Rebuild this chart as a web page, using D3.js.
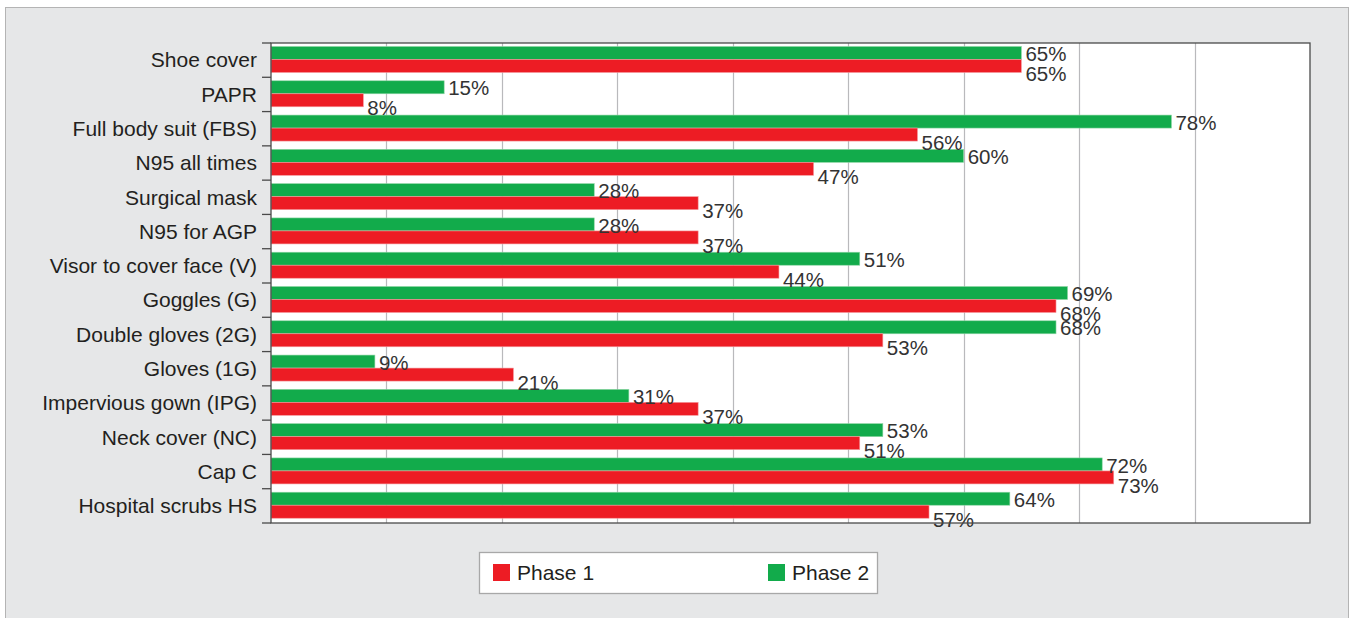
<!DOCTYPE html>
<html>
<head>
<meta charset="utf-8">
<script src="https://cdn.jsdelivr.net/npm/d3@7"></script>
<style>
  body { margin: 0; background: #fff; }
  text { font-family: "Liberation Sans", Arial, sans-serif; }
</style>
</head>
<body>
<svg id="chart" width="1351" height="618"></svg>
<script>
const categories = ["Shoe cover", "PAPR", "Full body suit (FBS)", "N95 all times", "Surgical mask",
    "N95 for AGP", "Visor to cover face (V)", "Goggles (G)", "Double gloves (2G)", "Gloves (1G)",
    "Impervious gown (IPG)", "Neck cover (NC)", "Cap C", "Hospital scrubs HS"];
const phase1 = [65, 8, 56, 47, 37, 37, 44, 68, 53, 21, 37, 51, 73, 57];
const phase2 = [65, 15, 78, 60, 28, 28, 51, 69, 68, 9, 31, 53, 72, 64];
const seriesNames = ["Phase 1", "Phase 2"];
const xTicks = [0, 10, 20, 30, 40, 50, 60, 70, 80, 90];

const red = "#ed1c24", green = "#12ab4b";

const margin = { top: 43, left: 271, right: 41, bottom: 95 },
    W = 1351, H = 618,
    width = W - margin.left - margin.right,
    height = H - margin.top - margin.bottom;

const svg = d3.select("#chart");

// grey panel
svg.append("rect")
    .attr("x", 5.5).attr("y", 7.5)
    .attr("width", 1343).attr("height", 620)
    .attr("fill", "#e6e7e8").attr("stroke", "#b4b4b4");

const g = svg.append("g").attr("transform", `translate(${margin.left},${margin.top})`);

const x = d3.scaleLinear().domain([0, 90]).range([0, width]);
const y = d3.scaleBand().domain(categories).range([0, height]);

g.append("rect").attr("width", width).attr("height", height).attr("fill", "#fff");

// gridlines
g.selectAll(".grid").data(xTicks.slice(1, -1)).enter().append("line")
    .attr("x1", d => Math.round(x(d)) + 0.5).attr("x2", d => Math.round(x(d)) + 0.5)
    .attr("y1", 0).attr("y2", height)
    .attr("stroke", "#b9b9bc").attr("stroke-width", 1.2);

const barH = 13, pad = 3.5;

const rows = categories.map((c, i) => ({ c, p1: phase1[i], p2: phase2[i] }));

// green (phase 2) on top, red (phase 1) below
g.selectAll(".b2").data(rows).enter().append("rect")
    .attr("x", 0).attr("y", d => y(d.c) + pad)
    .attr("width", d => x(d.p2)).attr("height", barH)
    .attr("fill", green).attr("stroke", "#8fd6a5").attr("stroke-width", 0.6);

g.selectAll(".b1").data(rows).enter().append("rect")
    .attr("x", 0).attr("y", d => y(d.c) + pad + barH)
    .attr("width", d => x(d.p1)).attr("height", barH)
    .attr("fill", red).attr("stroke", "#f59a9e").attr("stroke-width", 0.6);

// value labels
g.selectAll(".l2").data(rows).enter().append("text")
    .attr("x", d => x(d.p2) + 4).attr("y", d => y(d.c) + pad + barH / 2 + 1)
    .attr("dy", "0.35em").attr("font-size", 20.5).attr("fill", "#333")
    .text(d => d.p2 + "%");

g.selectAll(".l1").data(rows).enter().append("text")
    .attr("x", d => x(d.p1) + 4).attr("y", d => y(d.c) + pad + barH * 1.5 + 8)
    .attr("dy", "0.35em").attr("font-size", 20.5).attr("fill", "#333")
    .text(d => d.p1 + "%");

// frame
g.append("rect").attr("width", width).attr("height", height)
    .attr("fill", "none").attr("stroke", "#4a4a4a").attr("stroke-width", 1.3);

// y axis ticks at band boundaries
const bounds = categories.map(c => y(c)).concat([height]);
g.selectAll(".tk").data(bounds).enter().append("line")
    .attr("x1", -9).attr("x2", 0)
    .attr("y1", d => d).attr("y2", d => d)
    .attr("stroke", "#4a4a4a").attr("stroke-width", 1.3);

// category labels
g.selectAll(".cat").data(categories).enter().append("text")
    .attr("x", -14).attr("y", d => y(d) + y.bandwidth() / 2)
    .attr("dy", "0.35em").attr("text-anchor", "end")
    .attr("font-size", 21).attr("fill", "#231f20")
    .text(d => d);

// legend
const lg = svg.append("g").attr("transform", "translate(479,552)");
lg.append("rect").attr("x", 0.5).attr("y", 0.5).attr("width", 398).attr("height", 41)
    .attr("fill", "#fff").attr("stroke", "#a8a8a8").attr("stroke-width", 1.3);
const lx = [14, 289];
seriesNames.forEach((s, i) => {
    lg.append("rect").attr("x", lx[i]).attr("y", 12).attr("width", 17).attr("height", 17)
        .attr("fill", i === 0 ? red : green);
    lg.append("text").attr("x", lx[i] + 24).attr("y", 21).attr("dy", "0.35em")
        .attr("font-size", 21).attr("fill", "#231f20").text(s);
});
</script>
</body>
</html>
